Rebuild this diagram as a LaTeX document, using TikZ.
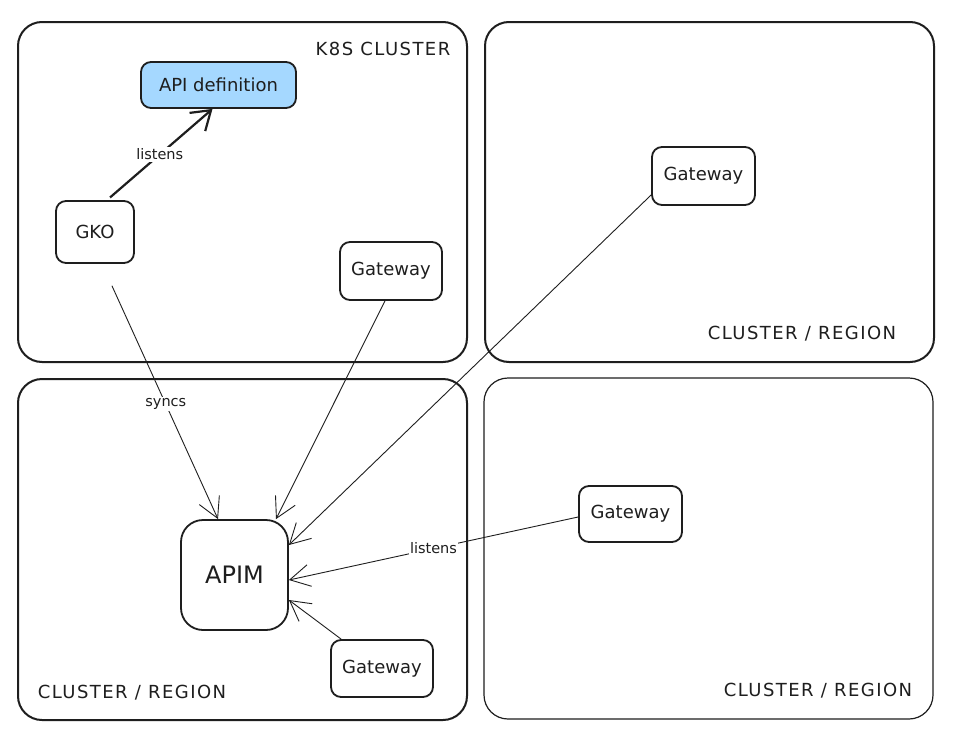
\documentclass[tikz,border=0pt]{standalone}
\usepackage{fontspec}
\setmainfont{DejaVu Sans}
\usetikzlibrary{arrows.meta,positioning}
\definecolor{ink}{HTML}{1E1E1E}
\definecolor{apiblue}{HTML}{A5D8FF}

\begin{document}
\begin{tikzpicture}[x=1pt, y=-1pt, ink,
  frame/.style={draw, line width=2pt, rounded corners=24pt},
  comp/.style={draw, line width=1.8pt, rounded corners=10pt, inner sep=0pt, font=\fontsize{18}{22}\selectfont},
  zone/.style={font=\fontsize{18}{22}\selectfont\addfontfeature{LetterSpace=8}},
  link/.style={line width=0.9pt, -{Straight Barb[length=20pt,width=22pt]}},
  tag/.style={fill=white, inner sep=1.5pt, font=\fontsize{14.5}{17}\selectfont}]
  \path[fill=white, use as bounding box] (0,0) rectangle (954,742);

  % cluster / region frames
  \draw[frame] (18,22) rectangle (467,362);
  \draw[frame] (485,22) rectangle (934,362);
  \draw[frame] (18,379) rectangle (467,720);
  \draw[frame, line width=1.2pt] (484,378) rectangle (933,719);

  \node[zone] (k8s) at (383,49) {K8S CLUSTER};
  \node[zone] (zoneB) at (802,334) {CLUSTER / REGION};
  \node[zone] (zoneC) at (132,693) {CLUSTER / REGION};
  \node[zone] (zoneD) at (818,691) {CLUSTER / REGION};

  % components
  \node[comp, fill=apiblue, minimum width=155pt, minimum height=46pt] (api) at (218.5,85) {API definition};
  \node[comp, minimum width=78pt, minimum height=62pt] (gko) at (95,232) {GKO};
  \node[comp, minimum width=102pt, minimum height=58pt] (gwA) at (391,271) {Gateway};
  \node[comp, minimum width=103pt, minimum height=58pt] (gwB) at (703.5,176) {Gateway};
  \node[comp, minimum width=107pt, minimum height=110pt, rounded corners=22pt,
    font=\fontsize{24}{28}\selectfont] (apim) at (234.5,575) {APIM};
  \node[comp, minimum width=103pt, minimum height=56pt] (gwC) at (630.5,514) {Gateway};
  \node[comp, minimum width=102pt, minimum height=57pt] (gwD) at (382,668.5) {Gateway};

  % connectors
  \draw[line width=2.2pt, -{Straight Barb[length=18pt,width=24pt]}, shorten <=4pt]
    ([xshift=12pt]gko.north) -- node[tag] {listens} ([xshift=-6pt]api.south);
  \draw[link, shorten <=24pt] ([xshift=7pt]gko.south) -- node[tag, pos=0.55] {syncs} ([xshift=-16.5pt]apim.north);
  \draw[link] ([xshift=-6pt]gwA.south) -- ([xshift=41.5pt]apim.north);
  \draw[link] ([yshift=-19pt]gwB.west) -- ([yshift=30pt]apim.east);
  \draw[link] ([yshift=-3pt]gwC.west) -- node[tag] {listens} ([yshift=-5pt]apim.east);
  \draw[link] ([xshift=11pt]gwD.north west) -- ([yshift=-25pt]apim.east);
\end{tikzpicture}
\end{document}
